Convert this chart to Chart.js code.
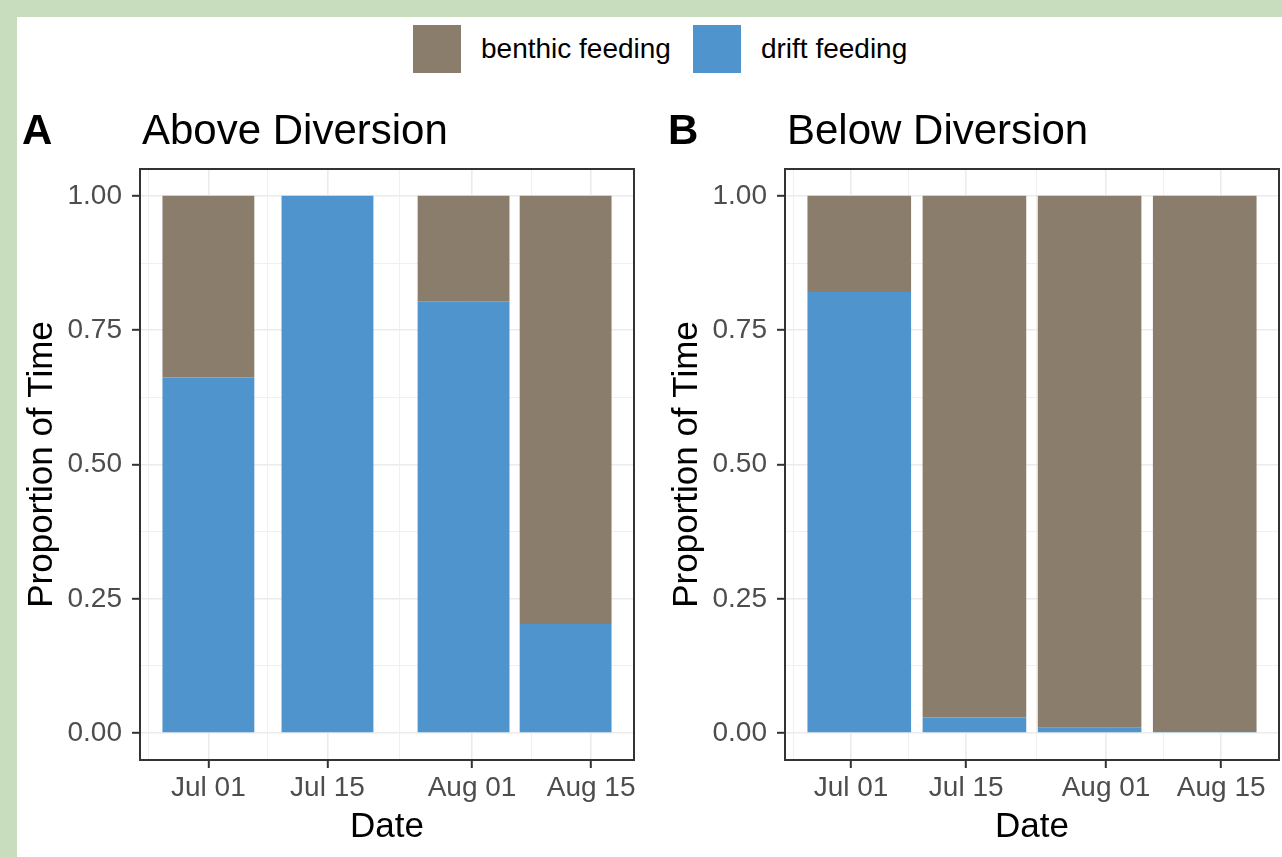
<!DOCTYPE html>
<html>
<head>
<meta charset="utf-8">
<script src="https://cdn.jsdelivr.net/npm/chart.js@4"></script>
<style>
  body { margin: 0; width: 1282px; height: 857px; background: #c8dcbe; overflow: hidden; font-family: "Liberation Sans", Arial, sans-serif; }
  #sheet { position: absolute; left: 17px; top: 17px; width: 1265px; height: 840px; background: #ffffff; }
  #legend { position: absolute; left: 413px; top: 25px; height: 48px; display: flex; align-items: center; font-size: 28px; color: #000; }
  #legend .key { width: 48px; height: 48px; margin-right: 20px; }
  #legend .lbl { margin-right: 22px; white-space: nowrap; }
  canvas { position: absolute; top: 90px; }
  #chartA { left: 0px; }
  #chartB { left: 645px; }
</style>
</head>
<body>
<div id="sheet"></div>
<div id="legend"></div>
<canvas id="chartA" width="642" height="767"></canvas>
<canvas id="chartB" width="637" height="767"></canvas>
<script>
// x values are days counted from Jul 01
const tickDays = [0, 14, 31, 45];
const tickLabels = ["Jul 01", "Jul 15", "Aug 01", "Aug 15"];
const minorDays = [-7, 7, 22.5, 38, 52];

const yMajor = [0, 0.25, 0.5, 0.75, 1];
const yMinor = [0.125, 0.375, 0.625, 0.875];

const seriesNames = ["benthic feeding", "drift feeding"];
const seriesColors = ["#8b7d6b", "#4f94cd"];

// A: Above Diversion  (Jul 01, Jul 15, Jul 31, Aug 12)
const daysA = [0, 14, 30, 42];
const driftA = [0.662, 1.0, 0.804, 0.203];
const benthicA = [0.338, 0.0, 0.196, 0.797];

// B: Below Diversion  (Jul 02, Jul 16, Jul 30, Aug 13)
const daysB = [1, 15, 29, 43];
const driftB = [0.821, 0.029, 0.010, 0.002];
const benthicB = [0.179, 0.971, 0.990, 0.998];

const FONT = '"Liberation Sans", Arial, sans-serif';

// legend shared by both panels
const legendEl = document.getElementById("legend");
seriesNames.forEach(function (name, i) {
    const key = document.createElement("div");
    key.className = "key";
    key.style.background = seriesColors[i];
    const lbl = document.createElement("div");
    lbl.className = "lbl";
    lbl.textContent = name;
    legendEl.appendChild(key);
    legendEl.appendChild(lbl);
});

const panelDecor = {
    id: "panelDecor",
    afterDraw(chart, args, opts) {
        const ctx = chart.ctx;
        const a = chart.chartArea;
        ctx.save();
        ctx.fillStyle = "#000";
        ctx.textBaseline = "alphabetic";
        ctx.textAlign = "left";
        ctx.font = "bold 42px " + FONT;
        ctx.fillText(opts.tag, opts.tagX, 54);
        ctx.font = "42px " + FONT;
        ctx.fillText(opts.title, a.left + 2, 54);
        // panel border on top of the bars
        ctx.strokeStyle = "#333333";
        ctx.lineWidth = 2;
        ctx.strokeRect(a.left, a.top, a.right - a.left, a.bottom - a.top);
        ctx.restore();
    }
};

function toPoints(days, vals) {
    return days.map((d, i) => ({ x: d, y: vals[i] }));
}

function makePanel(id, tag, tagX, title, days, drift, benthic, xMin, xMax, padRight) {
    const isMajorY = v => yMajor.some(m => Math.abs(m - v) < 1e-9);
    return new Chart(document.getElementById(id), {
        type: "bar",
        data: {
            datasets: [{
                label: seriesNames[1],
                data: toPoints(days, drift),
                backgroundColor: seriesColors[1],
                xAxisID: "x", yAxisID: "y"
            }, {
                label: seriesNames[0],
                data: toPoints(days, benthic),
                backgroundColor: seriesColors[0],
                xAxisID: "x", yAxisID: "y"
            }]
        },
        options: {
            responsive: false,
            animation: false,
            devicePixelRatio: 1,
            barPercentage: 0.9,
            categoryPercentage: 1.0,
            borderWidth: 0,
            layout: { padding: { top: 79, right: padRight, left: 0, bottom: 0 } },
            plugins: {
                legend: { display: false },
                tooltip: { enabled: false },
                panelDecor: { tag: tag, tagX: tagX, title: title }
            },
            scales: {
                x: {
                    type: "linear",
                    position: "bottom",
                    stacked: true,
                    offset: false,
                    min: xMin,
                    max: xMax,
                    afterBuildTicks: s => { s.ticks = tickDays.map(v => ({ value: v })); },
                    afterFit: s => { s.height = 97; },
                    ticks: {
                        autoSkip: false, maxRotation: 0, minRotation: 0,
                        padding: 3,
                        color: "#4d4d4d",
                        font: { family: FONT, size: 28 },
                        callback: v => tickLabels[tickDays.indexOf(v)]
                    },
                    grid: { offset: false, color: "#ebebeb", lineWidth: 1.6, tickColor: "#333333", tickWidth: 2, tickLength: 8 },
                    border: { display: false },
                    title: {
                        display: true, text: "Date", color: "#000",
                        font: { family: FONT, size: 35 },
                        padding: { top: 0, bottom: 9 }
                    }
                },
                xMinor: {
                    type: "linear",
                    position: "bottom",
                    offset: false,
                    min: xMin,
                    max: xMax,
                    afterBuildTicks: s => {
                        s.ticks = minorDays.filter(v => v > xMin && v < xMax).map(v => ({ value: v }));
                    },
                    afterFit: s => { s.height = 0; },
                    ticks: { display: false },
                    grid: { offset: false, color: "#f0f0f0", lineWidth: 1, drawTicks: false },
                    border: { display: false }
                },
                y: {
                    type: "linear",
                    stacked: true,
                    min: -0.05,
                    max: 1.05,
                    afterBuildTicks: s => {
                        s.ticks = yMajor.concat(yMinor).sort((a, b) => a - b).map(v => ({ value: v }));
                    },
                    afterFit: s => { s.width = 140; },
                    ticks: {
                        autoSkip: false,
                        padding: 10,
                        color: "#4d4d4d",
                        font: { family: FONT, size: 28 },
                        callback: v => isMajorY(v) ? v.toFixed(2) : ""
                    },
                    grid: {
                        color: c => (c.tick && isMajorY(c.tick.value)) ? "#ebebeb" : "#f0f0f0",
                        lineWidth: c => (c.tick && isMajorY(c.tick.value)) ? 1.6 : 1,
                        tickColor: c => (c.tick && isMajorY(c.tick.value)) ? "#333333" : "rgba(0,0,0,0)",
                        tickWidth: 2,
                        tickLength: 8
                    },
                    border: { display: false },
                    title: {
                        display: true, text: "Proportion of Time", color: "#000",
                        font: { family: FONT, size: 35 },
                        padding: { top: 21, bottom: 0 }
                    }
                }
            }
        },
        plugins: [panelDecor]
    });
}

makePanel("chartA", "A", 22, "Above Diversion", daysA, driftA, benthicA, -8.04, 50.04, 8);
makePanel("chartB", "B", 23, "Below Diversion", daysB, driftB, benthicB, -8.03, 52.03, 3);
</script>
</body>
</html>
